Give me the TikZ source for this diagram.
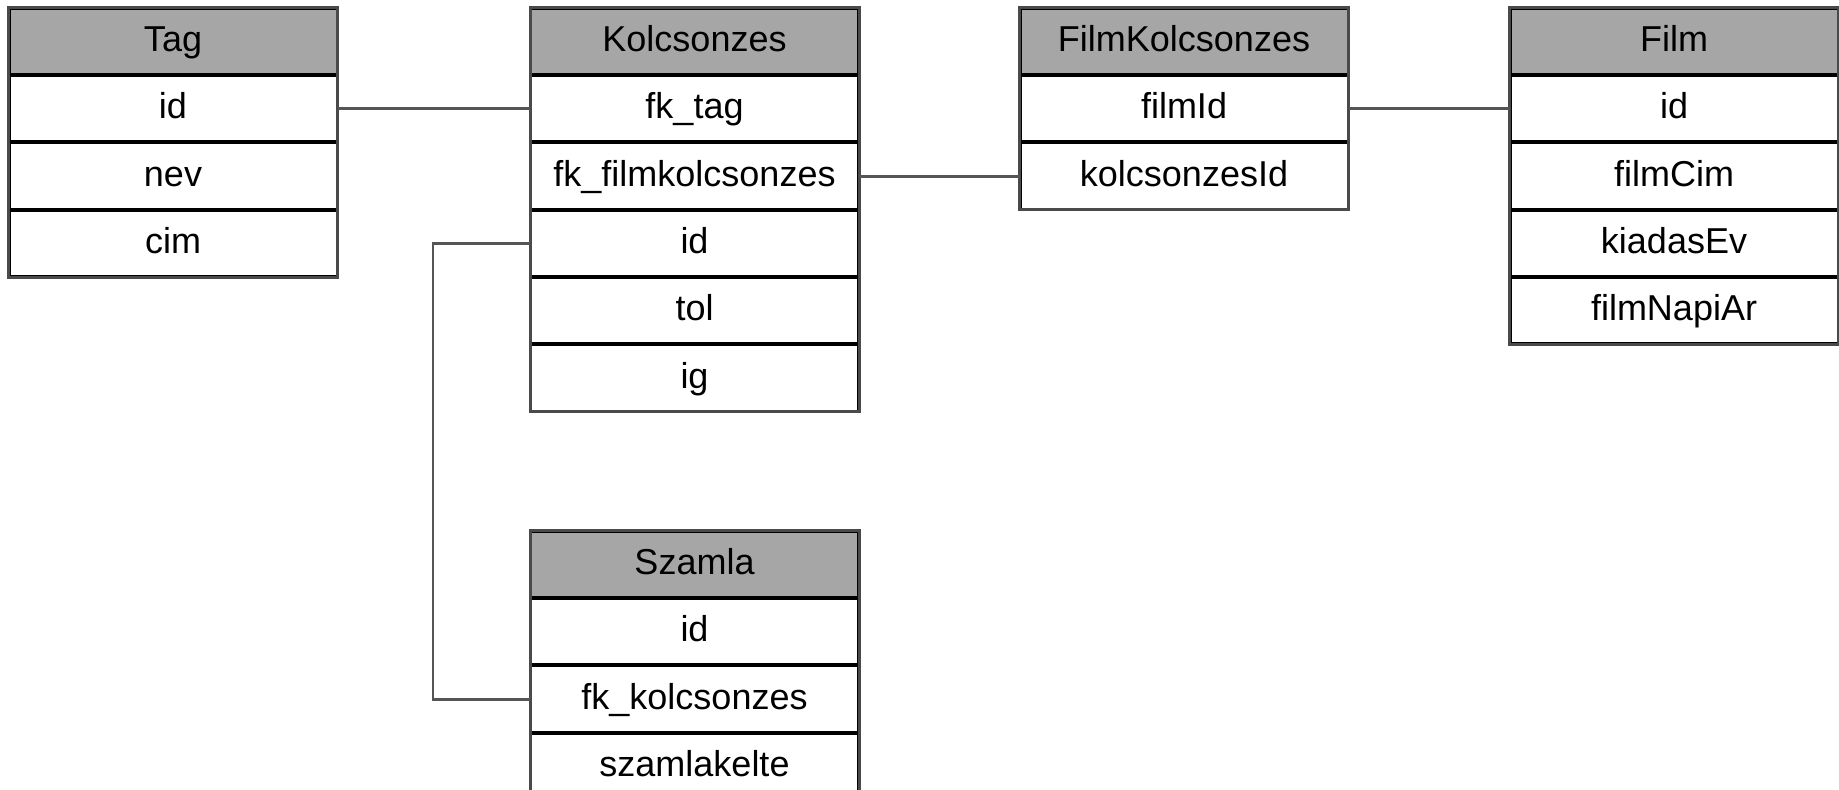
\documentclass[tikz,border=0pt]{standalone}
\usepackage{fontspec}
\setmainfont{Liberation Sans}
\usepackage{xcolor}
\usetikzlibrary{positioning}

\definecolor{headgray}{HTML}{A6A6A6}
\definecolor{framegray}{HTML}{4A4A4A}
\definecolor{linkgray}{HTML}{555555}

\tikzset{
  tabrow/.style={draw=black, line width=1pt, fill=white, minimum width=163.5pt,
    minimum height=32.65pt, inner sep=0pt, text height=13pt, text depth=3pt,
    font=\fontsize{18}{20}\selectfont},
  tabhead/.style={tabrow, fill=headgray},
  frame/.style={draw=framegray, line width=1.5pt},
  link/.style={draw=linkgray, line width=1.4pt},
}

\begin{document}
\begin{tikzpicture}[x=0.5pt, y=-0.5pt, node distance=0pt]
\useasboundingbox (0,0) rectangle (1839,789);
\clip (0,0) rectangle (1839,789);

% Tag
\node[tabhead] (tag) at (173,41.5) {Tag};
\node[tabrow, below=of tag] (tag-id) {id};
\node[tabrow, below=of tag-id] (tag-nev) {nev};
\node[tabrow, below=of tag-nev] (tag-cim) {cim};
\draw[frame] (tag.north west) rectangle (tag-cim.south east);

% Kolcsonzes
\node[tabhead] (kol) at (694.5,41.5) {Kolcsonzes};
\node[tabrow, below=of kol] (kol-fktag) {fk\_tag};
\node[tabrow, below=of kol-fktag] (kol-fkfilm) {fk\_filmkolcsonzes};
\node[tabrow, below=of kol-fkfilm] (kol-id) {id};
\node[tabrow, below=of kol-id] (kol-tol) {tol};
\node[tabrow, below=of kol-tol] (kol-ig) {ig};
\draw[frame] (kol.north west) rectangle (kol-ig.south east);

% FilmKolcsonzes
\node[tabhead] (fk) at (1184,41.5) {FilmKolcsonzes};
\node[tabrow, below=of fk] (fk-film) {filmId};
\node[tabrow, below=of fk-film] (fk-kol) {kolcsonzesId};
\draw[frame] (fk.north west) rectangle (fk-kol.south east);

% Film
\node[tabhead] (film) at (1674,41.5) {Film};
\node[tabrow, below=of film] (film-id) {id};
\node[tabrow, below=of film-id] (film-cim) {filmCim};
\node[tabrow, below=of film-cim] (film-ev) {kiadasEv};
\node[tabrow, below=of film-ev] (film-ar) {filmNapiAr};
\draw[frame] (film.north west) rectangle (film-ar.south east);

% Szamla (runs off the bottom edge)
\node[tabhead] (sz) at (694.5,564.5) {Szamla};
\node[tabrow, below=of sz] (sz-id) {id};
\node[tabrow, below=of sz-id] (sz-fk) {fk\_kolcsonzes};
\node[tabrow, below=of sz-fk] (sz-kelte) {szamlakelte};
\draw[frame] (sz.north west) rectangle (sz-kelte.south east);

% relations
\draw[link] (tag-id.east) -- (kol-fktag.west);
\draw[link] (kol-fkfilm.east) -- (fk-kol.west);
\draw[link] (fk-film.east) -- (film-id.west);
\draw[link] (kol-id.west) -- ++(-97,0) |- (sz-fk.west);
\end{tikzpicture}
\end{document}
